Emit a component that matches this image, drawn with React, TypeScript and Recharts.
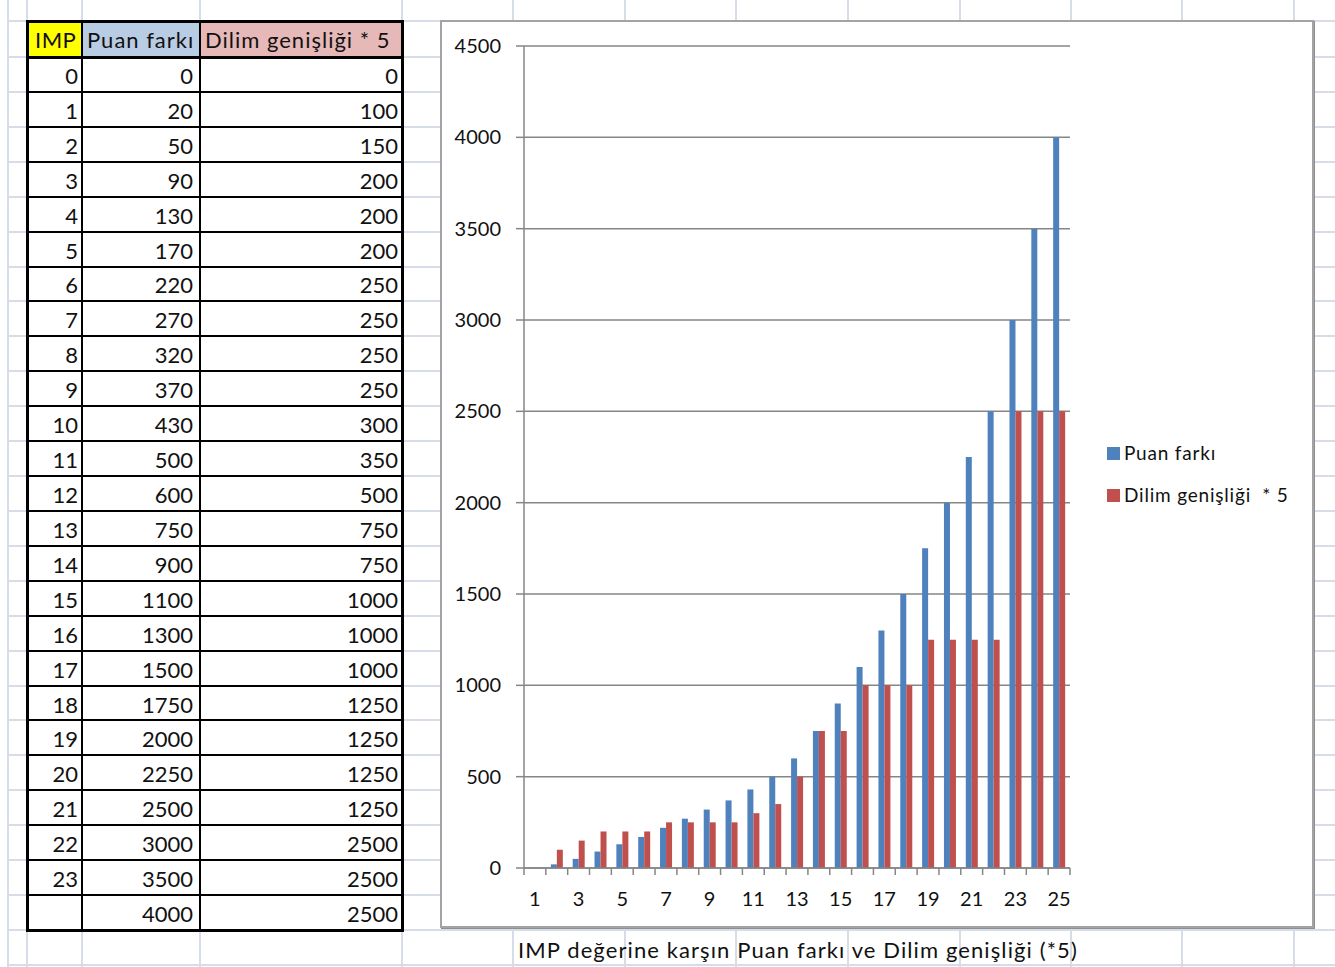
import { BarChart, Bar, XAxis, YAxis, CartesianGrid } from 'recharts';

// table / chart values
const IMP = ['0', '1', '2', '3', '4', '5', '6', '7', '8', '9', '10', '11', '12', '13', '14', '15', '16', '17', '18', '19', '20', '21', '22', '23', ''];
const PUAN = [0, 20, 50, 90, 130, 170, 220, 270, 320, 370, 430, 500, 600, 750, 900, 1100, 1300, 1500, 1750, 2000, 2250, 2500, 3000, 3500, 4000];
const DILIM = [0, 100, 150, 200, 200, 200, 250, 250, 250, 250, 300, 350, 500, 750, 750, 1000, 1000, 1000, 1250, 1250, 1250, 1250, 2500, 2500, 2500];
const CATEGORIES = ['1', '2', '3', '4', '5', '6', '7', '8', '9', '10', '11', '12', '13', '14', '15', '16', '17', '18', '19', '20', '21', '22', '23', '24', '25'];
const Y_TICKS = [0, 500, 1000, 1500, 2000, 2500, 3000, 3500, 4000, 4500];

const HEADERS = ['IMP', 'Puan farkı', 'Dilim genişliği * 5'];
const CAPTION = 'IMP değerine karşın Puan farkı ve Dilim genişliği (*5)';

const BLUE = '#4F81BD';
const RED = '#C0504D';
const AXIS = '#868686';
const SHEET_LINE = '#D6DCE8';
const FONT = 'Lato, "Open Sans", sans-serif';

// sheet geometry
const HEADER_TOP = 21;
const HEADER_BOTTOM = 57;
const ROW_H = 34.92;
const COL_X = [27, 82, 200, 402];
const SHEET_COLS = [8, 27, 82, 200, 402, 513, 625, 736, 848, 960, 1071, 1182, 1294];

// chart box
const BOX = { left: 441, top: 21, width: 872, height: 906 };
const PLOT_W = 546;
const BAND = PLOT_W / CATEGORIES.length;

const data = CATEGORIES.map((c, i) => ({ cat: c, puan: PUAN[i], dilim: DILIM[i] }));

function CategoryTick(props: any) {
  const { x, y, index, payload } = props;
  const last = index === CATEGORIES.length - 1;
  const showLabel = index % 2 === 0;
  return (
    <g>
      <line x1={x - BAND / 2} x2={x - BAND / 2} y1={y} y2={y + 7} stroke={AXIS} strokeWidth={1.5} />
      {last && <line x1={x + BAND / 2} x2={x + BAND / 2} y1={y} y2={y + 7} stroke={AXIS} strokeWidth={1.5} />}
      {showLabel && (
        <text x={x} y={y + 31} dy="0.35em" textAnchor="middle" fontSize={20} fill="#111" fontFamily={FONT}>
          {payload.value}
        </text>
      )}
    </g>
  );
}

export default function App() {
  const rowLines: number[] = [HEADER_TOP, HEADER_BOTTOM];
  for (let k = 1; k <= 26; k++) rowLines.push(HEADER_BOTTOM + k * ROW_H);
  const tableBottom = HEADER_BOTTOM + IMP.length * ROW_H;

  return (
    <div
      style={{
        position: 'absolute',
        left: 0,
        top: 0,
        width: 1335,
        height: 967,
        background: '#fff',
        overflow: 'hidden',
        fontFamily: FONT,
        color: '#111',
      }}
    >
      {/* spreadsheet gridlines */}
      {rowLines.map((y, i) => (
        <div key={'h' + i} style={{ position: 'absolute', left: 8, width: 1327, top: y - 1, height: 2, background: SHEET_LINE }} />
      ))}
      {SHEET_COLS.map((x, i) => (
        <div key={'v' + i} style={{ position: 'absolute', top: 0, height: 967, left: x - 1, width: 2, background: SHEET_LINE }} />
      ))}

      {/* table header */}
      <div style={{ position: 'absolute', left: COL_X[0], top: HEADER_TOP, width: COL_X[1] - COL_X[0], height: HEADER_BOTTOM - HEADER_TOP, background: '#FFFF00' }} />
      <div style={{ position: 'absolute', left: COL_X[1], top: HEADER_TOP, width: COL_X[2] - COL_X[1], height: HEADER_BOTTOM - HEADER_TOP, background: '#B8CCE4' }} />
      <div style={{ position: 'absolute', left: COL_X[2], top: HEADER_TOP, width: COL_X[3] - COL_X[2], height: HEADER_BOTTOM - HEADER_TOP, background: '#E6B9B8' }} />
      {HEADERS.map((h, i) => (
        <div
          key={h}
          style={{
            position: 'absolute',
            left: [35, 87, 205][i],
            top: 40 - 15,
            height: 30,
            lineHeight: '30px',
            fontSize: 22,
            letterSpacing: i === 0 ? 0.5 : 1,
            whiteSpace: 'nowrap',
          }}
        >
          {h}
        </div>
      ))}

      {/* table body */}
      {IMP.map((imp, r) => {
        const top = HEADER_BOTTOM + r * ROW_H;
        const cells = [imp, String(PUAN[r]), String(DILIM[r])];
        const rights = [78, 193, 398];
        return cells.map((t, c) => (
          <div
            key={r + '-' + c}
            style={{
              position: 'absolute',
              right: 1335 - rights[c],
              top: top + ROW_H / 2 + 1.5 - 15,
              height: 30,
              lineHeight: '30px',
              fontSize: 22,
              textAlign: 'right',
              whiteSpace: 'nowrap',
            }}
          >
            {t}
          </div>
        ));
      })}

      {/* table lines */}
      {rowLines.slice(1, 27).map((y, i) => (
        <div key={'th' + i} style={{ position: 'absolute', left: COL_X[0], width: COL_X[3] - COL_X[0], top: y - 1, height: i === 0 ? 3 : 2, background: '#000' }} />
      ))}
      {[COL_X[1], COL_X[2]].map((x) => (
        <div key={'tv' + x} style={{ position: 'absolute', left: x - 1, width: 2, top: HEADER_TOP, height: tableBottom - HEADER_TOP, background: '#000' }} />
      ))}
      <div
        style={{
          position: 'absolute',
          left: COL_X[0] - 1.5,
          top: HEADER_TOP - 1.5,
          width: COL_X[3] - COL_X[0] + 3,
          height: tableBottom - HEADER_TOP + 3,
          border: '3px solid #000',
          boxSizing: 'border-box',
        }}
      />

      {/* chart box */}
      <div
        style={{
          position: 'absolute',
          left: BOX.left - 1,
          top: BOX.top - 1,
          width: BOX.width + 2,
          height: BOX.height + 2,
          border: '2px solid #A3A3A3',
          boxShadow: '1px 1px 0 #8F8F8F',
          boxSizing: 'border-box',
          background: '#fff',
        }}
      />
      <div style={{ position: 'absolute', left: BOX.left, top: BOX.top }}>
        <BarChart
          width={BOX.width}
          height={BOX.height}
          data={data}
          margin={{ top: 25, right: 243, bottom: 9, left: 23 }}
          barGap={0}
        >
          <CartesianGrid horizontal vertical={false} stroke={AXIS} strokeWidth={1.5} />
          <XAxis
            dataKey="cat"
            height={50}
            interval={0}
            tickSize={0}
            tickMargin={0}
            tickLine={false}
            axisLine={{ stroke: AXIS, strokeWidth: 1.5 }}
            tick={<CategoryTick />}
          />
          <YAxis
            width={60}
            domain={[0, 4500]}
            ticks={Y_TICKS}
            interval={0}
            tickSize={8}
            tickMargin={15}
            tickLine={{ stroke: AXIS, strokeWidth: 1.5 }}
            axisLine={{ stroke: AXIS, strokeWidth: 1.5 }}
            tick={{ fontSize: 20, fill: '#111', fontFamily: FONT }}
          />
          <Bar dataKey="puan" name="Puan farkı" fill={BLUE} barSize={6} isAnimationActive={false} />
          <Bar dataKey="dilim" name="Dilim genişliği * 5" fill={RED} barSize={6} isAnimationActive={false} />
        </BarChart>
      </div>

      {/* legend */}
      {[
        { label: 'Puan farkı', color: BLUE, y: 453 },
        { label: 'Dilim genişliği  * 5', color: RED, y: 495 },
      ].map((l) => (
        <div key={l.label}>
          <div style={{ position: 'absolute', left: 1107, top: l.y - 6.5, width: 13, height: 13, background: l.color }} />
          <div
            style={{
              position: 'absolute',
              left: 1124,
              top: l.y - 14,
              height: 28,
              lineHeight: '28px',
              fontSize: 19,
              letterSpacing: 0.8,
              whiteSpace: 'pre',
            }}
          >
            {l.label}
          </div>
        </div>
      ))}

      {/* caption cell */}
      <div
        style={{
          position: 'absolute',
          left: 518,
          top: 950 - 15,
          height: 30,
          lineHeight: '30px',
          fontSize: 22,
          letterSpacing: 1.1,
          whiteSpace: 'nowrap',
        }}
      >
        {CAPTION}
      </div>
    </div>
  );
}
